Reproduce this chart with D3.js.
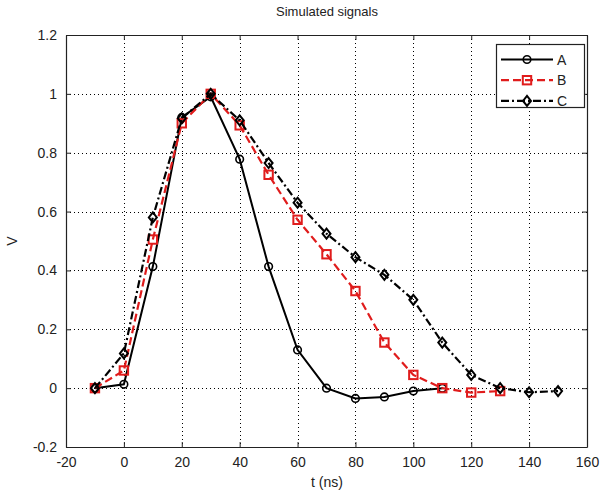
<!DOCTYPE html>
<html>
<head>
<meta charset="utf-8">
<script src="https://cdn.jsdelivr.net/npm/d3@7"></script>
<style>
  body { margin: 0; background: #fff; }
  svg { display: block; }
  text { font-family: "Liberation Sans", Arial, sans-serif; fill: #222; }
</style>
</head>
<body>
<svg id="chart" width="600" height="491"></svg>
<script>
// values
const tA = [-10, 0, 10, 20, 30, 40, 50, 60, 70, 80, 90, 100, 110];
const vA = [0, 0.013, 0.413, 0.92, 0.99, 0.778, 0.413, 0.13, 0, -0.035, -0.03, -0.01, 0];

const tB = [-10, 0, 10, 20, 30, 40, 50, 60, 70, 80, 90, 100, 110, 120, 130];
const vB = [0, 0.06, 0.505, 0.9, 1.0, 0.893, 0.725, 0.572, 0.455, 0.33, 0.155, 0.045, 0, -0.015, -0.01];

const tC = [-10, 0, 10, 20, 30, 40, 50, 60, 70, 80, 90, 100, 110, 120, 130, 140, 150];
const vC = [0, 0.118, 0.58, 0.917, 1.0, 0.91, 0.765, 0.63, 0.525, 0.445, 0.385, 0.3, 0.155, 0.045, 0, -0.014, -0.01];

const xTicks = [-20, 0, 20, 40, 60, 80, 100, 120, 140, 160];
const yTicks = [-0.2, 0, 0.2, 0.4, 0.6, 0.8, 1, 1.2];

const series = [
  { name: "A", t: tA, v: vA, color: "#000", width: 2, dash: null, marker: "circle" },
  { name: "B", t: tB, v: vB, color: "#e01c1c", width: 2.2, dash: "8,4", marker: "square" },
  { name: "C", t: tC, v: vC, color: "#000", width: 2.2, dash: "8,3,2,3", marker: "diamond" }
];

const svg = d3.select("#chart");
const plotL = 66, plotR = 587, plotT = 35, plotB = 447;

const x = d3.scaleLinear().domain([-20, 160]).range([plotL, plotR]);
const y = d3.scaleLinear().domain([-0.2, 1.2]).range([plotB, plotT]);

// grid
const grid = svg.append("g")
  .attr("stroke", "#000")
  .attr("stroke-width", 1)
  .attr("stroke-dasharray", "1,3");
grid.selectAll(".gx").data(xTicks.slice(1, -1)).join("line")
  .attr("x1", d => Math.round(x(d)) + 0.5).attr("x2", d => Math.round(x(d)) + 0.5)
  .attr("y1", plotT).attr("y2", plotB);
grid.selectAll(".gy").data(yTicks.slice(1, -1)).join("line")
  .attr("y1", d => Math.round(y(d)) + 0.5).attr("y2", d => Math.round(y(d)) + 0.5)
  .attr("x1", plotL).attr("x2", plotR);

// axes, ticks inward like matlab
const fmt = d => String(+d.toFixed(1));
const xAxis = svg.append("g")
  .attr("transform", `translate(0,${plotB})`)
  .call(d3.axisBottom(x).tickValues(xTicks).tickSizeInner(-5).tickSizeOuter(0).tickPadding(10).tickFormat(fmt));
const xTop = svg.append("g")
  .attr("transform", `translate(0,${plotT})`)
  .call(d3.axisTop(x).tickValues(xTicks).tickSizeInner(-5).tickSizeOuter(0).tickFormat(""));
const yAxis = svg.append("g")
  .attr("transform", `translate(${plotL},0)`)
  .call(d3.axisLeft(y).tickValues(yTicks).tickSizeInner(-5).tickSizeOuter(0).tickPadding(9).tickFormat(fmt));
const yRight = svg.append("g")
  .attr("transform", `translate(${plotR},0)`)
  .call(d3.axisRight(y).tickValues(yTicks).tickSizeInner(-5).tickSizeOuter(0).tickFormat(""));

[xAxis, xTop, yAxis, yRight].forEach(g => {
  g.select(".domain").attr("stroke", "#222").attr("stroke-width", 1.2);
  g.selectAll(".tick line").attr("stroke", "#222");
  g.selectAll(".tick text").style("font-size", "14px").attr("fill", "#222")
    .style("font-family", "'Liberation Sans', Arial, sans-serif");
});

function drawMarker(g, type, color, px, py) {
  if (type === "circle") {
    g.append("circle").attr("cx", px).attr("cy", py).attr("r", 3.8)
      .attr("fill", "none").attr("stroke", color).attr("stroke-width", 1.6);
  } else if (type === "square") {
    g.append("rect").attr("x", px - 4.2).attr("y", py - 4.2).attr("width", 8.4).attr("height", 8.4)
      .attr("fill", "none").attr("stroke", color).attr("stroke-width", 2);
  } else {
    g.append("path").attr("d", `M${px},${py - 5}L${px + 4},${py}L${px},${py + 5}L${px - 4},${py}Z`)
      .attr("fill", "none").attr("stroke", color).attr("stroke-width", 2);
  }
}

const line = d3.line().x(d => x(d[0])).y(d => y(d[1]));

series.forEach(s => {
  const pts = s.t.map((t, i) => [t, s.v[i]]);
  const g = svg.append("g");
  g.append("path").datum(pts).attr("d", line)
    .attr("fill", "none").attr("stroke", s.color).attr("stroke-width", s.width)
    .attr("stroke-dasharray", s.dash);
  pts.forEach(p => drawMarker(g, s.marker, s.color, x(p[0]), y(p[1])));
});

// legend
const lg = svg.append("g");
lg.append("rect").attr("x", 496.5).attr("y", 44.5).attr("width", 88).attr("height", 63)
  .attr("fill", "#fff").attr("stroke", "#222").attr("stroke-width", 1.2);
series.forEach((s, i) => {
  const ly = 59.5 + i * 20.7;
  lg.append("line").attr("x1", 501).attr("x2", 553).attr("y1", ly).attr("y2", ly)
    .attr("stroke", s.color).attr("stroke-width", s.width).attr("stroke-dasharray", s.dash);
  drawMarker(lg, s.marker, s.color, 527, ly);
  lg.append("text").attr("x", 557).attr("y", ly + 5).style("font-size", "14px").text(s.name);
});

// labels
svg.append("text").attr("x", 327).attr("y", 16).attr("text-anchor", "middle")
  .style("font-size", "13px").text("Simulated signals");
svg.append("text").attr("x", 327).attr("y", 487).attr("text-anchor", "middle")
  .style("font-size", "14px").text("t (ns)");
svg.append("text").attr("transform", "translate(17,241) rotate(-90)").attr("text-anchor", "middle")
  .style("font-size", "14px").text("V");
</script>
</body>
</html>
